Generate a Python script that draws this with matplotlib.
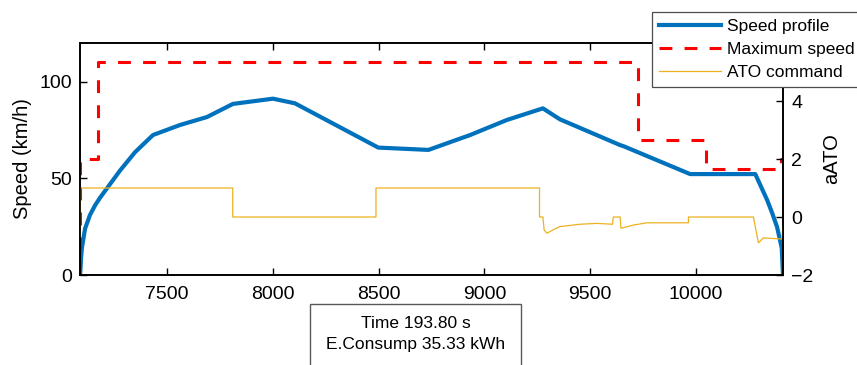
import numpy as np
import matplotlib
matplotlib.use('Agg')
import matplotlib.pyplot as plt
from matplotlib.patches import Rectangle

plt.rcParams['font.family'] = ['Liberation Sans', 'DejaVu Sans']

# speed profile along the line (position, km/h)
pos_speed = [7088, 7090, 7093, 7097, 7112, 7135, 7159, 7183, 7230, 7277, 7348,
             7433, 7561, 7688, 7811, 8000, 8104, 8498, 8735, 8932, 9106, 9276,
             9357, 9641, 9660, 9972, 10280, 10336, 10360, 10383, 10405, 10411]
speed = [0, 3, 9, 14, 24, 31, 36, 40, 47, 54, 63.5,
         72.4, 77.6, 81.7, 88.5, 91.2, 88.8, 65.9, 64.7, 72.4, 80.2, 86.2,
         80.5, 67.2, 66.5, 52.2, 52.2, 38.8, 32, 24.8, 14, 0]

# speed limit steps
pos_limit = [7088, 7088, 7173, 9726, 10048, 10400, 10411]
limit = [0, 60, 110, 70, 55, 60, 60]

# ATO acceleration command
pos_ato = [7088, 7090, 7810, 7810, 8487, 8487, 9260, 9260, 9276, 9282, 9295,
           9330, 9357, 9452, 9531, 9605, 9609, 9641, 9645, 9703, 9767, 9964,
           9964, 10271, 10295, 10318, 10405, 10411]
ato = [-0.7, 1, 1, 0, 0, 1, 1, 0, 0, -0.45, -0.56,
       -0.42, -0.33, -0.25, -0.22, -0.25, 0, 0, -0.39, -0.28, -0.2, -0.2,
       0, 0, -0.89, -0.72, -0.76, -0.34]

time_s = 193.80
energy_kwh = 35.33

fig = plt.figure(figsize=(8.57, 3.65), dpi=100)
ax = fig.add_axes([80/857, 90/365, 703/857, 232/365])
ax2 = ax.twinx()

l1, = ax.plot(pos_speed, speed, color='#0072BD', linewidth=3, solid_joinstyle='round')
l2, = ax.plot(pos_limit, limit, color='r', linewidth=2.2, drawstyle='steps-post',
              dashes=(4.2, 4.0))
l3, = ax2.plot(pos_ato, ato, color='#EDB120', linewidth=0.9)

ax.set_xlim(pos_speed[0], pos_speed[-1])
ax.set_ylim(0, 120)
ax2.set_ylim(-2, 6)
ax.set_xticks([7500, 8000, 8500, 9000, 9500, 10000])
ax.set_yticks([0, 50, 100])
ax2.set_yticks([-2, 0, 2, 4])

ax.set_ylabel('Speed (km/h)', fontsize=14.5, labelpad=5)
ax2.set_ylabel('aATO', fontsize=14.5, labelpad=6)

ax.tick_params(axis='x', direction='in', length=5, width=1, top=True,
               labelsize=14, pad=8)
ax.tick_params(axis='y', direction='in', length=5, width=1, labelsize=14, pad=6)
ax2.tick_params(axis='y', direction='in', length=5, width=1, labelsize=14, pad=6)
for a in (ax, ax2):
    for s in a.spines.values():
        s.set_linewidth(1.2)

leg = fig.legend([l1, l2, l3], ['Speed profile', 'Maximum speed', 'ATO command'],
                 loc='upper left', bbox_to_anchor=(652/857, 1 - 11.7/365),
                 fontsize=12.5, handlelength=3.6, handletextpad=0.3,
                 labelspacing=0.45, borderpad=0.4, borderaxespad=0,
                 fancybox=False, framealpha=1)
leg.get_frame().set_edgecolor('0.3')
leg.get_frame().set_linewidth(0.9)

# summary box under the axis
fig.add_artist(Rectangle((310/857, -0.1), 211/857, 0.1 + 61/365,
                         transform=fig.transFigure, facecolor='white',
                         edgecolor='0.35', linewidth=1))
fig.text(415.5/857, 1 - 323/365, 'Time %.2f s' % time_s, ha='center',
         va='center', fontsize=12.5)
fig.text(415.5/857, 1 - 345/365, 'E.Consump %.2f kWh' % energy_kwh,
         ha='center', va='center', fontsize=12.5)

fig.savefig('out.png', dpi=100)
